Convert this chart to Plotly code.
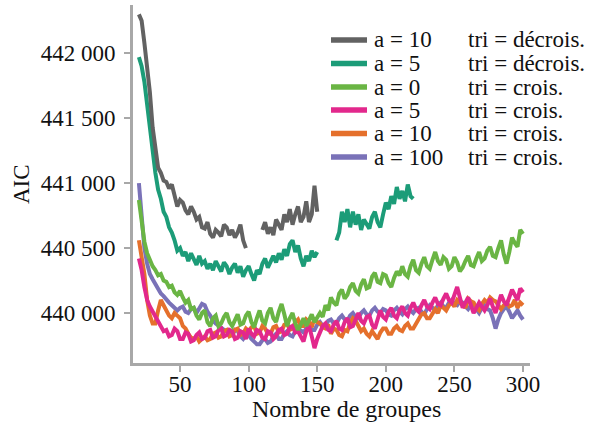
import plotly.graph_objects as go

x_groups = list(range(20, 301, 2))

aic_a10_decr = [
    442300, 442250, 442080, 441900, 441700, 441430, 441250, 441120, 441080, 441020,
    441010, 440960, 440990, 440900, 440820, 440870, 440850, 440790, 440760, 440820,
    440780, 440720, 440740, 440660, 440650, 440700, 440610, 440580, 440640, 440620,
    440590, 440680, 440660, 440600, 440640, 440580, 440620, 440680, 440560, 440500,
    None, None, None, None, None, 440640, 440700, 440610, 440660, 440600,
    440720, 440680, 440640, 440760, 440700, 440800, 440680, 440760, 440820, 440700,
    440740, 440860, 440700, 440760, 440980, 440780, None, None, None, None,
] + [None] * 71
aic_a5_decr = [
    441970, 441900, 441780, 441600, 441430, 441200, 441080, 440950, 440880, 440780,
    440740, 440660, 440620, 440560, 440480, 440500, 440440, 440470, 440400, 440460,
    440420, 440370, 440440, 440380, 440400, 440340, 440380, 440330, 440400, 440360,
    440320, 440390, 440360, 440300, 440350, 440380, 440310, 440360, 440280, 440330,
    440360, 440300, 440250, 440330, 440300, 440380, 440420, 440350, 440400, 440440,
    440390, 440460, 440410, 440490, 440440, 440530, 440560, 440470, 440520, 440420,
    440360, 440440, 440400, 440480, 440430, 440470, None, None, None, None,
    None, None, 440560, 440620, 440780, 440700, 440800, 440660, 440780, 440680,
    440760, 440640, 440720, 440690, 440650, 440740, 440780, 440700, 440660, 440760,
    440850, 440800, 440900, 440840, 440970, 440880, 440940, 440860, 440990, 440900,
    440880,
] + [None] * 40
aic_a0_cr = [
    440870, 440700, 440550, 440460, 440400, 440360, 440330, 440290, 440300, 440250,
    440240, 440200, 440210, 440160, 440140, 440170, 440120, 440080, 440100, 440030,
    440040, 439980, 439950, 440000, 440020, 439930, 439900, 439960, 439980, 439900,
    439920, 439970, 440000, 439930, 439900, 439950, 439990, 439910, 439920, 439980,
    440010, 439930, 439890, 439960, 440020, 439940, 439920, 440000, 440040, 439960,
    439930, 440010, 440070, 439990, 439900, 439960, 440000, 439920, 439870, 439910,
    439960, 439900, 439940, 439990, 439930, 439960, 440000, 439970, 440060, 440020,
    440120, 440080, 440060, 440150, 440180, 440110, 440140, 440200, 440230, 440170,
    440150, 440220, 440260, 440190, 440200, 440280, 440310, 440240, 440230, 440300,
    440290, 440230, 440200, 440270, 440320, 440290, 440360, 440300, 440280, 440360,
    440410, 440330, 440310, 440380, 440430, 440360, 440340, 440410, 440470, 440400,
    440370, 440430, 440410, 440340, 440360, 440430, 440390, 440320, 440350, 440400,
    440440, 440370, 440360, 440420, 440470, 440400, 440420, 440480, 440510, 440440,
    440430, 440500, 440560, 440450, 440380, 440470, 440580, 440540, 440510, 440640,
    440610,
]
aic_a5_cr = [
    440420, 440330, 440200, 440100, 440050, 440010, 439980, 439930, 439900, 439860,
    439870, 439820, 439830, 439880, 439860, 439800, 439800, 439850, 439840, 439780,
    439790, 439830, 439850, 439800, 439810, 439860, 439870, 439810, 439820, 439870,
    439880, 439820, 439830, 439870, 439860, 439800, 439810, 439860, 439850, 439800,
    439880, 439840, 439820, 439870, 439860, 439810, 439800, 439860, 439850, 439800,
    439820, 439870, 439880, 439830, 439840, 439890, 439900, 439850, 439860, 439820,
    439780, 439860, 439900, 439820, 439730, 439800, 439850, 439900, 439920, 439870,
    439860, 439910, 439940, 439880, 439870, 439930, 439960, 439890, 439900, 439960,
    440000, 439940, 439920, 439970, 439980, 439910, 439880, 439950, 440020, 439970,
    439950, 440010, 440040, 439980, 439960, 440020, 440050, 440000, 439980, 440040,
    440080, 440030, 440010, 440060, 440100, 440050, 440030, 440080, 440120, 440070,
    440060, 440110, 440150, 440100, 440080, 440140, 440200, 440120, 440040, 440080,
    440120, 440060, 440000, 440040, 440080, 440050, 440020, 440060, 440110, 440050,
    440000, 440070, 440140, 440090, 440060, 440120, 440180, 440140, 440100, 440190,
    440160,
]
aic_a10_cr = [
    440560, 440450, 440300, 440100, 439980, 439920, 439920, 440020, 440100, 440060,
    440020, 439980, 439960, 440000, 439980, 439960, 439900, 439880, 439840, 439810,
    439800, 439820, 439780, 439800, 439820, 439790, 439800, 439840, 439850, 439810,
    439820, 439860, 439870, 439820, 439830, 439870, 439880, 439830, 439840, 439880,
    439860, 439890, 439900, 439840, 439850, 439900, 439880, 439840, 439840, 439890,
    439900, 439850, 439860, 439910, 439920, 439870, 439880, 439930, 439950, 439900,
    439900, 439950, 439930, 439890, 439960, 439930, 439920, 439890, 439880, 439910,
    439840, 439880, 439870, 439830, 439820, 439870, 439860, 439920, 439960, 439940,
    439900, 439860, 439880, 439840, 439820, 439860, 439830, 439800, 439850, 439880,
    439880, 439840, 439840, 439880, 439900, 439870, 439860, 439900, 439920, 439880,
    439880, 439920, 439950, 439990, 440000, 439960, 439960, 440000, 440030, 440000,
    440060, 440040, 440020, 440060, 440080, 440050, 440100, 440080, 440070, 440040,
    440110, 440090, 440080, 440040, 440020, 440070, 440100, 440080, 440120, 440100,
    440090, 440060, 440030, 440060, 440080, 440050, 440060, 440100, 440040, 440080,
    440060,
]
aic_a100_cr = [
    441000, 440750, 440500, 440380, 440300, 440260, 440220, 440190, 440150, 440130,
    440100, 440080, 440060, 440040, 440020, 440040, 440050, 440010, 440000, 440030,
    440040, 440000, 440030, 440070, 440060, 440010, 439980, 439940, 439920, 439900,
    439880, 439870, 439860, 439840, 439830, 439870, 439860, 439820, 439800, 439830,
    439830, 439800, 439780, 439760, 439760, 439790, 439800, 439770, 439780, 439820,
    439840, 439800, 439800, 439840, 439860, 439830, 439820, 439860, 439880, 439860,
    439850, 439880, 439900, 439870, 439870, 439910, 439930, 439900, 439900, 439940,
    439950, 439920, 439920, 439960, 439980, 439950, 439940, 439980, 440000, 439970,
    439960, 440000, 440020, 439990, 439980, 440020, 440040, 440010, 440000, 440030,
    440020, 439990, 439980, 440020, 440040, 440010, 439990, 440030, 440050, 440020,
    440000, 440030, 440040, 440010, 439990, 440030, 440060, 440040, 440020, 440060,
    440080, 440050, 440040, 440080, 440100, 440070, 440060, 440090, 440080, 440050,
    440030, 440060, 440070, 440030, 440000, 440040, 440060, 440030, 440020, 439960,
    439880, 439950, 440000, 440030, 440050, 440010, 439960, 439990, 440020, 439980,
    439950,
]

series_values = [aic_a10_decr, aic_a5_decr, aic_a0_cr, aic_a5_cr, aic_a10_cr, aic_a100_cr]
series_a = ["a = 10", "a = 5", "a = 0", "a = 5", "a = 10", "a = 100"]
series_tri = ["tri = décrois.", "tri = décrois.", "tri = crois.", "tri = crois.", "tri = crois.", "tri = crois."]
colors = ["#626262", "#1c9c78", "#6ab544", "#e2288c", "#e5702c", "#7a72b8"]

y_tickvals = [440000, 440500, 441000, 441500, 442000]
y_ticktext = ["440 000", "440 500", "441 000", "441 500", "442 000"]
x_tickvals = [50, 100, 150, 200, 250, 300]

FONT = "'Liberation Serif', 'Times New Roman', Times, serif"
TXT = "#111111"
FS = 23

fig = go.Figure()
order = [5, 4, 3, 2, 1, 0]
for i in order:
    fig.add_trace(go.Scatter(
        x=x_groups, y=series_values[i], mode="lines",
        line=dict(color=colors[i], width=4),
        connectgaps=False, showlegend=False,
        name=series_a[i] + " " + series_tri[i]))

L, R, T, B = 133, 530, 5, 363
W, H = R - L, B - T
def px_x(p):
    return (p - L) / W
def px_y(p):
    return (B - p) / H

row_y = [40, 63.5, 87, 110, 133.5, 157]
shapes = []
annotations = []
for i in range(len(series_a)):
    yy = px_y(row_y[i])
    shapes.append(dict(type="line", xref="paper", yref="paper",
                       x0=px_x(331), x1=px_x(367), y0=yy, y1=yy,
                       line=dict(color=colors[i], width=5.5)))
    annotations.append(dict(xref="paper", yref="paper", x=px_x(372), y=yy,
                            text=series_a[i], showarrow=False, xanchor="left", yanchor="middle",
                            font=dict(family=FONT, size=FS, color=TXT)))
    annotations.append(dict(xref="paper", yref="paper", x=px_x(466), y=yy,
                            text=series_tri[i], showarrow=False, xanchor="left", yanchor="middle",
                            font=dict(family=FONT, size=FS, color=TXT)))

annotations.append(dict(xref="paper", yref="paper", x=px_x(346), y=px_y(409),
                        text="Nombre de groupes", showarrow=False, xanchor="center", yanchor="middle",
                        font=dict(family=FONT, size=24, color=TXT)))
annotations.append(dict(xref="paper", yref="paper", x=px_x(21), y=px_y(184),
                        text="AIC", showarrow=False, textangle=-90, xanchor="center", yanchor="middle",
                        font=dict(family=FONT, size=FS, color=TXT)))

fig.update_layout(
    width=592, height=427,
    margin=dict(l=L, r=592 - R, t=T, b=427 - B),
    paper_bgcolor="white", plot_bgcolor="white",
    shapes=shapes, annotations=annotations,
    font=dict(family=FONT, size=FS, color=TXT),
)
fig.update_xaxes(range=[15.7, 305.1], tickvals=x_tickvals, showgrid=False, zeroline=False,
                 showline=True, linecolor="#a8a8a8", linewidth=3,
                 ticks="outside", ticklen=6, tickwidth=2, tickcolor="#a8a8a8",
                 ticklabelstandoff=-8,
                 tickfont=dict(family=FONT, size=FS, color=TXT))
fig.update_yaxes(range=[439615, 442372], tickvals=y_tickvals, ticktext=y_ticktext,
                 showgrid=False, zeroline=False,
                 showline=True, linecolor="#a8a8a8", linewidth=3,
                 ticks="outside", ticklen=6, tickwidth=2, tickcolor="#a8a8a8",
                 ticklabelstandoff=4,
                 tickfont=dict(family=FONT, size=FS, color=TXT))

fig.write_html("out.html")
